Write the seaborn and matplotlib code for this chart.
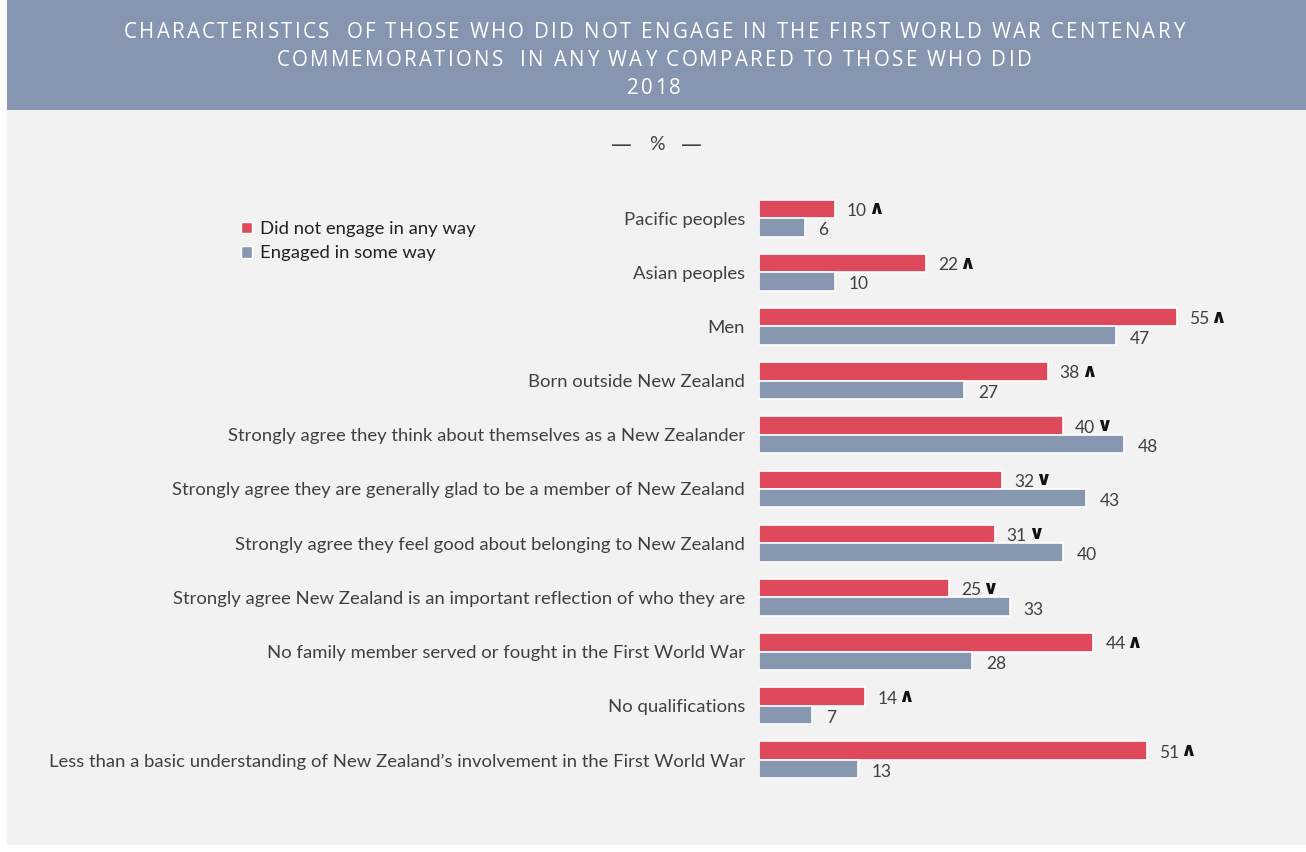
import matplotlib
matplotlib.use("Agg")
import matplotlib.pyplot as plt
from matplotlib.patches import Rectangle
from matplotlib.font_manager import FontProperties
import seaborn as sns
import pandas as pd

categories = [
    "Pacific peoples",
    "Asian peoples",
    "Men",
    "Born outside New Zealand",
    "Strongly agree they think about themselves as a New Zealander",
    "Strongly agree they are generally glad to be a member of New Zealand",
    "Strongly agree they feel good about belonging to New Zealand",
    "Strongly agree New Zealand is an important reflection of who they are",
    "No family member served or fought in the First World War",
    "No qualifications",
    "Less than a basic understanding of New Zealand\u2019s involvement in the First World War",
]
did_not_engage = [10, 22, 55, 38, 40, 32, 31, 25, 44, 14, 51]
engaged = [6, 10, 47, 27, 48, 43, 40, 33, 28, 7, 13]
# significance marker for the "did not engage" group: up = higher, down = lower
direction = ["up", "up", "up", "up", "down", "down", "down", "down", "up", "up", "up"]
series_names = ["Did not engage in any way", "Engaged in some way"]

title_lines = [
    "CHARACTERISTICS  OF THOSE WHO DID NOT ENGAGE IN THE FIRST WORLD WAR CENTENARY",
    "COMMEMORATIONS  IN ANY WAY COMPARED TO THOSE WHO DID",
    "2018",
]

RED = "#de4a5b"
BLUE = "#8797b0"
HEADER = "#8696b0"
PANEL = "#f2f2f2"
TEXT = "#404040"

df = pd.DataFrame({
    "category": categories * 2,
    "value": did_not_engage + engaged,
    "series": [series_names[0]] * len(categories) + [series_names[1]] * len(categories),
})

sns.set_theme(style="white")
plt.rcParams["font.family"] = ["Lato", "DejaVu Sans"]

W, H = 1306, 852
fig = plt.figure(figsize=(W / 100, H / 100), dpi=100, facecolor="white")

# background panel and header band
fig.patches.append(Rectangle((7 / W, 7 / H), 1 - 7 / W, 1 - 7 / H,
                             transform=fig.transFigure, facecolor=PANEL,
                             edgecolor="none", zorder=-2))
fig.patches.append(Rectangle((7 / W, 1 - 110 / H), 1 - 7 / W, 110 / H,
                             transform=fig.transFigure, facecolor=HEADER,
                             edgecolor="none", zorder=-1))

renderer = fig.canvas.get_renderer()


def text_width(s, prop):
    w, _, _ = renderer.get_text_width_height_descent(s, prop, ismath=False)
    return w


def tracked_text(xc, yc, s, prop, tracking, color):
    """Draw a letter-spaced line of text centred at (xc, yc) in pixels."""
    space = text_width("a a", prop) - text_width("aa", prop)
    widths = [space if ch == " " else text_width(ch, prop) for ch in s]
    total = sum(widths) + tracking * (len(s) - 1)
    x = xc - total / 2
    for ch, w in zip(s, widths):
        if ch != " ":
            fig.text(x / W, 1 - yc / H, ch, ha="left", va="center",
                     fontproperties=prop, color=color)
        x += w + tracking


title_prop = FontProperties(family=["Open Sans", "DejaVu Sans"], size=14.8)
for i, line in enumerate(title_lines):
    tracked_text(654, 33 + 27.5 * i, line, title_prop, 2.3, "white")

# "— % —" unit line
fig.text(621 / W, 1 - 145 / H, "\u2014", ha="center", va="center", color=TEXT,
         fontsize=15, fontfamily="DejaVu Sans")
fig.text(657 / W, 1 - 145 / H, "%", ha="center", va="center", color=TEXT,
         fontsize=14)
fig.text(691 / W, 1 - 145 / H, "\u2014", ha="center", va="center", color=TEXT,
         fontsize=15, fontfamily="DejaVu Sans")

px_per_unit = 7.6
left_px = 759
top_px, bottom_px = 191, 787
xmax = 60
ax = fig.add_axes([left_px / W, 1 - bottom_px / H, xmax * px_per_unit / W,
                   (bottom_px - top_px) / H])
ax.set_facecolor("none")

sns.barplot(data=df, y="category", x="value", hue="series", orient="h",
            palette=[RED, BLUE], saturation=1, width=0.68, gap=0.0,
            edgecolor="white", linewidth=1.2, ax=ax, legend=False)

ax.set_xlim(0, xmax)
ax.set_ylim(len(categories) - 0.5, -0.5)
ax.set_xticks([])
ax.set_xlabel("")
ax.set_ylabel("")
for s in ax.spines.values():
    s.set_visible(False)
ax.tick_params(axis="y", length=0, pad=10, labelsize=13.3, labelcolor=TEXT)

# value labels
off = 0.68 / 4
for i, (a, b, d) in enumerate(zip(did_not_engage, engaged, direction)):
    ax.annotate(f"{a}", (a, i - off), xytext=(12, -2), textcoords="offset pixels",
                ha="left", va="center", fontsize=12.5, color=TEXT)
    ax.annotate("\u2227" if d == "up" else "\u2228", (a, i - off), xytext=(33, 0),
                textcoords="offset pixels", ha="left", va="center", fontsize=14,
                fontweight="bold", color="#111111", fontfamily="DejaVu Sans")
    ax.annotate(f"{b}", (b, i + off), xytext=(14, -3), textcoords="offset pixels",
                ha="left", va="center", fontsize=12.5, color=TEXT)

handles = [Rectangle((0, 0), 1, 1, facecolor=c, edgecolor="white") for c in (RED, BLUE)]
fig.legend(handles, series_names, loc="upper left",
           bbox_to_anchor=(241 / W, 1 - 221 / H), frameon=False,
           fontsize=13.3, handlelength=0.6, handleheight=0.6, handletextpad=0.45,
           labelspacing=0.45, borderaxespad=0, borderpad=0, labelcolor="#222222")

fig.savefig("out.png", dpi=100, facecolor="white")
